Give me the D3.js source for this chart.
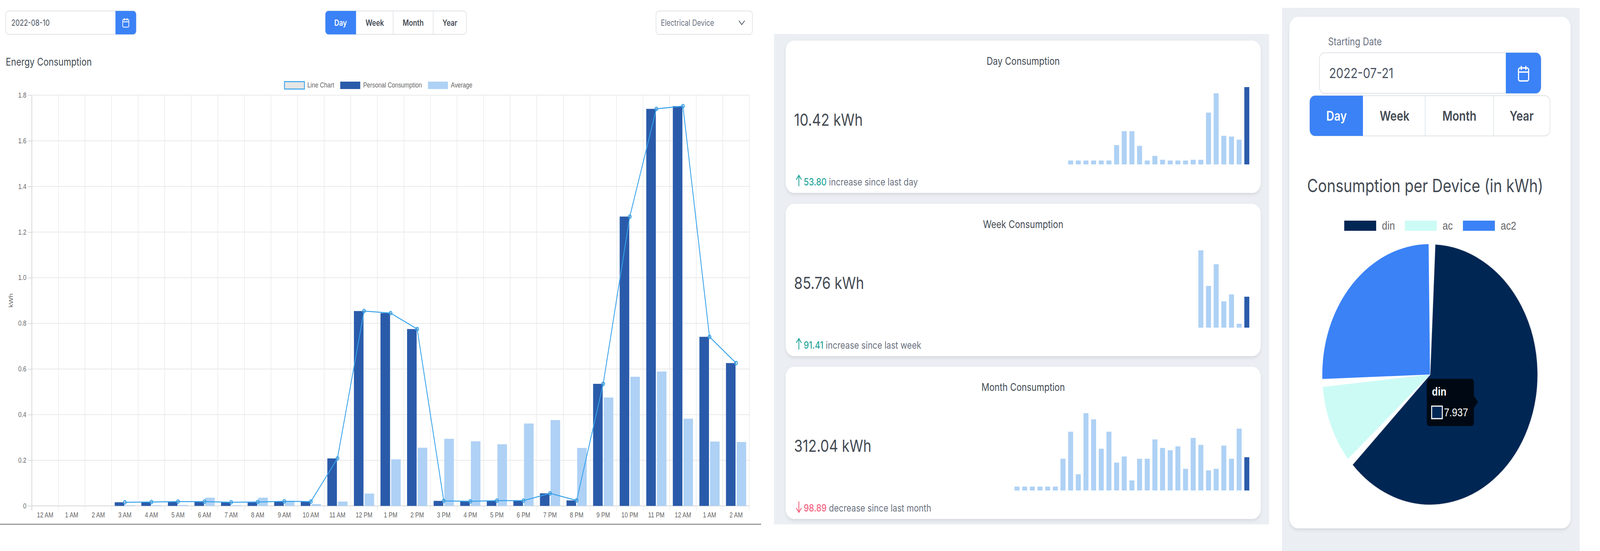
<!DOCTYPE html>
<html>
  <head>
    <title>Energy Consumption</title>
    <style>
      html, body { margin: 0; padding: 0; background: #fff; overflow: hidden; }
      svg { display: block; width: 100vw; height: 100vh; font-family: Inter, "Noto Sans", sans-serif; }
      .chart-text { font-family: "Liberation Sans", Arial, sans-serif; fill: #666; }
      .axis path { display: none; }
      .axis line { stroke: #d9d9d9; stroke-width: 2; }
    </style>
    <script src="https://d3js.org/d3.v7.min.js"></script>
  </head>
  <body>
    <div id="chart"></div>
    <script>
      // Filling the data
      var hours = ["12 AM", "1 AM", "2 AM", "3 AM", "4 AM", "5 AM", "6 AM", "7 AM", "8 AM", "9 AM", "10 AM", "11 AM",
        "12 PM", "1 PM", "2 PM", "3 PM", "4 PM", "5 PM", "6 PM", "7 PM", "8 PM", "9 PM", "10 PM", "11 PM",
        "12 AM", "1 AM", "2 AM"];
      var personal = [null, null, null, 0.016, 0.017, 0.019, 0.019, 0.016, 0.017, 0.020, 0.019, 0.208,
        0.854, 0.845, 0.775, 0.022, 0.020, 0.023, 0.023, 0.055, 0.024, 0.535, 1.268, 1.740,
        1.752, 0.741, 0.626];
      var average = [null, null, null, 0.003, 0.003, 0.004, 0.036, 0.003, 0.036, 0.019, 0.008, 0.019,
        0.054, 0.204, 0.255, 0.294, 0.283, 0.270, 0.361, 0.376, 0.254, 0.475, 0.566, 0.589,
        0.382, 0.282, 0.280];
      var yTicks = [0, 0.2, 0.4, 0.6, 0.8, 1.0, 1.2, 1.4, 1.6, 1.8];
      var barSeries = ["Personal Consumption", "Average"];

      // sparklines, read as percent of the tallest bar
      var dayValues = [5, 5, 5, 5, 5, 5, 25, 43, 43, 24, 5, 11, 6, 5, 5, 5, 6, 6, 67, 92, 37, 36, 32, 100];
      var weekValues = [100, 54, 82, 34, 43, 5, 40];
      var monthValues = [5, 5, 5, 5, 5, 5, 41, 76, 21, 100, 92, 54, 76, 36, 44, 13, 41, 41, 66, 55, 52, 57, 28, 68, 59, 26, 28, 58, 41, 80, 43];

      var cardTitles = ["Day Consumption", "Week Consumption", "Month Consumption"];
      var cardTotals = ["10.42 kWh", "85.76 kWh", "312.04 kWh"];
      var cardChanges = ["53.80", "91.41", "98.89"];
      var cardNotes = [" increase since last day", " increase since last week", " decrease since last month"];
      var cardUp = [true, true, false];

      var devices = ["din", "ac", "ac2"];
      var deviceValues = [7.937, 1.24, 3.24];
      var rangeLabels = ["Day", "Week", "Month", "Year"];

      var blue = "#3b82f6";
      var lineBlue = "#36a2eb";
      var darkBar = "#2a5baa";
      var lightBar = "#aed1f5";
      var textDark = "#444b54";
      var deviceColors = ["#002654", "#ccfbf5", blue];

      var svg = d3.select("#chart").append("svg")
        .attr("viewBox", "0 0 4961 1411")
        .attr("preserveAspectRatio", "none");

      var defs = svg.append("defs");
      var shadow = defs.append("filter").attr("id", "card-shadow")
        .attr("x", "-5%").attr("y", "-5%").attr("width", "110%").attr("height", "115%");
      shadow.append("feDropShadow")
        .attr("dx", 0).attr("dy", 4).attr("stdDeviation", 4)
        .attr("flood-color", "#000").attr("flood-opacity", 0.1);

      // small form controls
      function calendarIcon(cx, cy, k) {
        var g = svg.append("g")
          .attr("transform", `translate(${cx},${cy}) scale(${k})`)
          .attr("fill", "none").attr("stroke", "#fff").attr("stroke-width", 2);
        g.append("rect").attr("x", -9).attr("y", -8).attr("width", 18).attr("height", 19).attr("rx", 3);
        g.append("path").attr("d", "M-9,-2H9M-4,-11V-5M4,-11V-5");
      }

      function dateInput(x, y, w, h, btnX, label, fontSize, textX, r) {
        svg.append("rect").attr("x", x).attr("y", y).attr("width", w).attr("height", h)
          .attr("rx", r).attr("fill", "#fff").attr("stroke", "#dee2e6").attr("stroke-width", 2);
        svg.append("path")
          .attr("d", `M${btnX},${y}H${x + w - r}a${r},${r} 0 0 1 ${r},${r}V${y + h - r}a${r},${r} 0 0 1 -${r},${r}H${btnX}Z`)
          .attr("fill", blue);
        svg.append("text").attr("x", textX).attr("y", y + h / 2).attr("dy", "0.36em")
          .attr("font-size", fontSize).attr("fill", "#4b5563").text(label);
      }

      function rangeButtons(x0, y, h, stops, centers, fontSize, r) {
        var right = stops[stops.length - 1];
        svg.append("rect").attr("x", x0).attr("y", y).attr("width", right - x0).attr("height", h)
          .attr("rx", r).attr("fill", "#fff").attr("stroke", "#dee2e6").attr("stroke-width", 2);
        svg.append("path")
          .attr("d", `M${stops[0]},${y}H${x0 + r}a${r},${r} 0 0 0 -${r},${r}V${y + h - r}a${r},${r} 0 0 0 ${r},${r}H${stops[0]}Z`)
          .attr("fill", blue);
        stops.slice(1, 3).forEach(function(s) {
          svg.append("line").attr("x1", s).attr("x2", s).attr("y1", y).attr("y2", y + h)
            .attr("stroke", "#dee2e6").attr("stroke-width", 2);
        });
        rangeLabels.forEach(function(t, i) {
          svg.append("text").attr("x", centers[i]).attr("y", y + h / 2).attr("dy", "0.36em")
            .attr("text-anchor", "middle").attr("font-size", fontSize).attr("font-weight", 600)
            .attr("fill", i === 0 ? "#fff" : textDark).text(t);
        });
      }

      // top bar of the main chart
      dateInput(18, 28, 404, 60, 358, "2022-08-10", 21, 35, 9);
      calendarIcon(390, 58, 1.05);
      rangeButtons(1009, 28, 60, [1104, 1219, 1343, 1446], [1056, 1162, 1281, 1395], 21, 9);

      svg.append("rect").attr("x", 2034).attr("y", 28).attr("width", 299).attr("height", 60)
        .attr("rx", 9).attr("fill", "#fff").attr("stroke", "#dee2e6").attr("stroke-width", 2);
      svg.append("text").attr("x", 2049).attr("y", 58).attr("dy", "0.36em")
        .attr("font-size", 21).attr("fill", "#6b7280").text("Electrical Device");
      svg.append("path").attr("d", "M2291,53L2300,63L2309,53")
        .attr("fill", "none").attr("stroke", "#4b5563").attr("stroke-width", 2);

      svg.append("text").attr("x", 18).attr("y", 158).attr("dy", "0.36em")
        .attr("font-size", 27).attr("fill", textDark).text("Energy Consumption");

      // Scale
      var plotLeft = 98.7, plotRight = 2323.5, plotTop = 243.7, plotBottom = 1295.5;
      var xScale = d3.scaleBand()
        .domain(d3.range(hours.length))
        .range([plotLeft, plotRight]);
      var step = xScale.step();
      var xGroup = d3.scaleBand()
        .domain(barSeries)
        .range([step * 0.1, step * 0.9]);
      var barWidth = xGroup.bandwidth() * 0.9;
      var barInset = xGroup.bandwidth() * 0.05;
      var yScale = d3.scaleLinear().domain([0, 1.8]).range([plotBottom, plotTop]);

      // grid
      var grid = svg.append("g");
      grid.selectAll(".h").data(yTicks).enter().append("line")
        .attr("x1", plotLeft).attr("x2", plotRight)
        .attr("y1", d => yScale(d)).attr("y2", d => yScale(d))
        .attr("stroke", d => d === 0 ? "#d6d6d6" : "#e9e9e9").attr("stroke-width", 2);
      grid.selectAll(".v").data(d3.range(hours.length + 1)).enter().append("line")
        .attr("x1", d => plotLeft + d * step).attr("x2", d => plotLeft + d * step)
        .attr("y1", plotTop).attr("y2", plotBottom + 12)
        .attr("stroke", d => d === 0 ? "#cfcfcf" : "#e6e6e6").attr("stroke-width", d => d === 0 ? 2 : 1.5);

      // axes
      var yAxis = d3.axisLeft(yScale).tickValues(yTicks).tickSize(12).tickPadding(5)
        .tickFormat(d => d === 0 ? "0" : d.toFixed(1));
      svg.append("g").attr("class", "axis")
        .attr("transform", `translate(${plotLeft},0)`)
        .call(yAxis)
        .selectAll("text").attr("class", "chart-text").attr("font-size", 18);

      var xAxis = d3.axisBottom(xScale).tickSize(0).tickPadding(17).tickFormat(i => hours[i]);
      var xAxisGroup = svg.append("g").attr("class", "axis")
        .attr("transform", `translate(0,${plotBottom})`)
        .call(xAxis);
      xAxisGroup.selectAll("text").attr("class", "chart-text").attr("font-size", 18);

      svg.append("text").attr("class", "chart-text")
        .attr("transform", `translate(33,${(plotTop + plotBottom) / 2}) rotate(-90)`)
        .attr("text-anchor", "middle").attr("dy", "0.36em").attr("font-size", 18).text("kWh");

      // bars
      function drawBars(values, name, color) {
        svg.append("g").selectAll("rect")
          .data(values.map((v, i) => ({ v: v, i: i })).filter(d => d.v !== null))
          .enter().append("rect")
          .attr("x", d => xScale(d.i) + xGroup(name) + barInset)
          .attr("width", barWidth)
          .attr("y", d => yScale(d.v))
          .attr("height", d => yScale(0) - yScale(d.v))
          .attr("fill", color);
      }
      drawBars(personal, barSeries[0], darkBar);
      drawBars(average, barSeries[1], lightBar);

      // line on top
      var line = d3.line()
        .defined(d => d.v !== null)
        .x(d => xScale(d.i) + xScale.bandwidth() / 2)
        .y(d => yScale(d.v));
      var linePoints = personal.map((v, i) => ({ v: v, i: i }));
      svg.append("path").attr("d", line(linePoints))
        .attr("fill", "none").attr("stroke", lineBlue).attr("stroke-width", 2.5);
      svg.append("g").selectAll("circle")
        .data(linePoints.filter(d => d.v !== null))
        .enter().append("circle")
        .attr("cx", d => xScale(d.i) + xScale.bandwidth() / 2)
        .attr("cy", d => yScale(d.v))
        .attr("r", 4.5)
        .attr("fill", "rgba(0,0,0,0.1)").attr("stroke", lineBlue).attr("stroke-width", 2.5);

      // legend of the main chart
      var legendItems = [
        { name: "Line Chart", x: 882, fill: "#e5e5e5", stroke: lineBlue },
        { name: "Personal Consumption", x: 1055, fill: darkBar, stroke: "none" },
        { name: "Average", x: 1327, fill: lightBar, stroke: "none" }
      ];
      legendItems.forEach(function(d) {
        svg.append("rect").attr("x", d.x).attr("y", 209).attr("width", 62).attr("height", 19)
          .attr("fill", d.fill).attr("stroke", d.stroke).attr("stroke-width", 2.5);
        svg.append("text").attr("class", "chart-text").attr("x", d.x + 71).attr("y", 217.5)
          .attr("dy", "0.36em").attr("font-size", 18).text(d.name);
      });

      svg.append("line").attr("x1", 0).attr("x2", 2360).attr("y1", 1342.5).attr("y2", 1342.5)
        .attr("stroke", "#6b6b6b").attr("stroke-width", 2);

      // middle panel
      svg.append("rect").attr("x", 2400).attr("y", 87).attr("width", 1535).attr("height", 1256).attr("fill", "#ebeff4");

      var cardTops = [104, 522, 939];
      var sparkData = [dayValues, weekValues, monthValues];
      var sparkRight = 3873.6, sparkStep = 23.75, sparkPad = 0.35;

      cardTops.forEach(function(top, c) {
        svg.append("rect").attr("x", 2436).attr("y", top).attr("width", 1473).attr("height", 390)
          .attr("rx", 26).attr("fill", "#fff").attr("filter", "url(#card-shadow)");
        svg.append("text").attr("x", 3172.5).attr("y", top + 52).attr("dy", "0.36em")
          .attr("text-anchor", "middle").attr("font-size", 27).attr("fill", textDark).text(cardTitles[c]);
        svg.append("text").attr("x", 2462).attr("y", top + 203).attr("dy", "0.36em")
          .attr("font-size", 43).attr("fill", textDark).text(cardTotals[c]);

        var tone = cardUp[c] ? "#26a69a" : "#f4627f";
        var arrowY = top + 359;
        svg.append("path")
          .attr("d", cardUp[c]
            ? `M2477,${arrowY + 14}V${arrowY - 13}M2469,${arrowY - 3}L2477,${arrowY - 14}L2485,${arrowY - 3}`
            : `M2477,${arrowY - 14}V${arrowY + 13}M2469,${arrowY + 3}L2477,${arrowY + 14}L2485,${arrowY + 3}`)
          .attr("fill", "none").attr("stroke", tone).attr("stroke-width", 2.5);
        var foot = svg.append("text").attr("x", 2492).attr("y", top + 362).attr("dy", "0.36em")
          .attr("font-size", 25.6).attr("fill", "#6b7280").attr("xml:space", "preserve");
        foot.append("tspan").attr("fill", tone).attr("font-weight", 500).text(cardChanges[c]);
        foot.append("tspan").text(cardNotes[c]);

        // sparkline
        var values = sparkData[c];
        var sparkWidth = sparkStep * (values.length - sparkPad);
        var sx = d3.scaleBand().domain(d3.range(values.length))
          .range([sparkRight - sparkWidth, sparkRight]).paddingInner(sparkPad);
        var sy = d3.scaleLinear().domain([0, 100]).range([top + 317, top + 119]);
        svg.append("g").selectAll("rect").data(values).enter().append("rect")
          .attr("x", (d, i) => sx(i))
          .attr("width", sx.bandwidth())
          .attr("y", d => sy(d))
          .attr("height", d => sy(0) - sy(d))
          .attr("fill", (d, i) => i === values.length - 1 ? darkBar : lightBar);
      });

      // right panel
      svg.append("rect").attr("x", 3975).attr("y", 20).attr("width", 923).attr("height", 1391).attr("fill", "#ebeff4");
      svg.append("rect").attr("x", 3998).attr("y", 43).attr("width", 872).attr("height", 1310)
        .attr("rx", 27).attr("fill", "#fff").attr("filter", "url(#card-shadow)");
      // top edge of the next card, just visible at the bottom of the screenshot
      svg.append("rect").attr("x", 3998).attr("y", 1408).attr("width", 872).attr("height", 3).attr("fill", "#e4edf3");

      svg.append("text").attr("x", 4118).attr("y", 106).attr("dy", "0.36em")
        .attr("font-size", 27).attr("fill", "#6b7280").text("Starting Date");
      dateInput(4091, 135, 687, 104, 4669, "2022-07-21", 36, 4121, 16);
      calendarIcon(4724, 188, 1.75);
      rangeButtons(4061, 245, 103, [4226, 4419, 4631, 4806], [4144, 4324, 4525, 4718], 34, 16);

      svg.append("text").attr("x", 4419).attr("y", 475).attr("dy", "0.36em")
        .attr("text-anchor", "middle").attr("font-size", 46).attr("fill", textDark)
        .text("Consumption per Device (in kWh)");

      var legendX = [4168, 4356, 4536];
      devices.forEach(function(d, i) {
        svg.append("rect").attr("x", legendX[i]).attr("y", 565).attr("width", 99).attr("height", 26)
          .attr("fill", deviceColors[i]);
        svg.append("text").attr("class", "chart-text").attr("x", legendX[i] + 117).attr("y", 577.5)
          .attr("dy", "0.36em").attr("font-size", 30).text(d);
      });

      // pie, gaps are wedges so the slices meet at the centre
      var pieGap = 0.0605;
      var pie = d3.pie().sort(null).padAngle(pieGap)
        .startAngle(0.017).endAngle(0.017 + 2 * Math.PI);
      var arc = d3.arc()
        .innerRadius(0).outerRadius(334)
        .padAngle(0)
        .startAngle(d => d.startAngle + pieGap / 2)
        .endAngle(d => d.endAngle - pieGap / 2);
      svg.append("g").attr("transform", "translate(4434,959)")
        .selectAll("path").data(pie(deviceValues)).enter().append("path")
        .attr("d", arc)
        .attr("fill", (d, i) => deviceColors[i])
        .attr("stroke", (d, i) => i === 0 ? "#eeeeee" : "none")
        .attr("stroke-width", 2);

      // tooltip that was open on the din slice
      var tip = svg.append("g");
      tip.append("path")
        .attr("d", "M4432,970H4562a8,8 0 0 1 8,8V1014L4583,1029.5L4570,1045V1083a8,8 0 0 1 -8,8H4432a8,8 0 0 1 -8,-8V978a8,8 0 0 1 8,-8Z")
        .attr("fill", "#000913");
      tip.append("text").attr("x", 4440).attr("y", 1002).attr("dy", "0.36em")
        .attr("font-family", "Liberation Sans, Arial, sans-serif").attr("font-size", 30)
        .attr("font-weight", 700).attr("fill", "#fff").text(devices[0]);
      tip.append("rect").attr("x", 4439).attr("y", 1040).attr("width", 33).attr("height", 32)
        .attr("fill", deviceColors[0]).attr("stroke", "#fff").attr("stroke-width", 3);
      tip.append("text").attr("x", 4477).attr("y", 1055).attr("dy", "0.36em")
        .attr("font-family", "Liberation Sans, Arial, sans-serif").attr("font-size", 30)
        .attr("fill", "#fff").text(deviceValues[0]);
    </script>
  </body>
</html>
